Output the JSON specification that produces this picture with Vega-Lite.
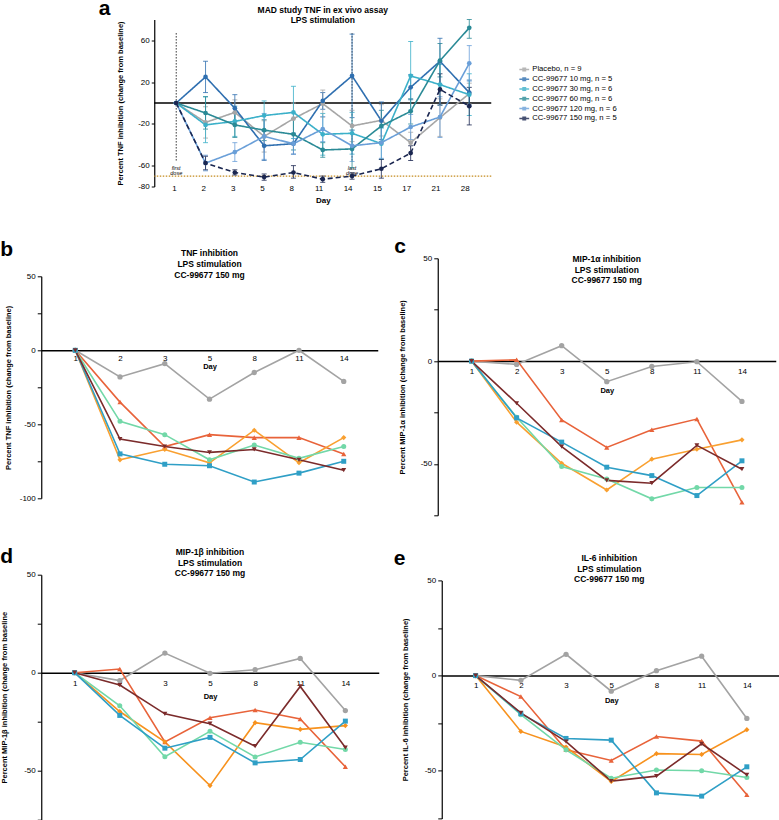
{
"$schema":"https://vega.github.io/schema/vega-lite/v6.json",
"background":"white",
"padding":{"left":0,"top":-2.5,"right":0,"bottom":0},
"config":{"font":"Liberation Sans","view":{"stroke":null},
"axis":{"grid":false,"domainColor":"black","tickColor":"black","labelColor":"black","titleColor":"black","labelFontSize":8,"titleFontSize":7.5,"titleFontWeight":"bold","labelOverlap":false},
"title":{"fontSize":8.5,"fontWeight":"bold","color":"black","lineHeight":11},
"legend":{"labelFontSize":7.7,"labelColor":"black"}},
"datasets":{
"doses":[{"d":"1","label":"first dose"},{"d":"14","label":"last dose"}],
"refs":[{"ref":"baseline","y":0},{"ref":"threshold","y":-70}],
"mad":[
{"g":"Placebo, n = 9","d":"1","v":0,"lo":0,"hi":0},
{"g":"Placebo, n = 9","d":"2","v":-18.6,"lo":-33.6,"hi":-3.6},
{"g":"Placebo, n = 9","d":"3","v":-9,"lo":-21,"hi":3},
{"g":"Placebo, n = 9","d":"5","v":-32,"lo":-47,"hi":-17},
{"g":"Placebo, n = 9","d":"8","v":-15,"lo":-30,"hi":0},
{"g":"Placebo, n = 9","d":"11","v":-0.6,"lo":-13.6,"hi":12.4},
{"g":"Placebo, n = 9","d":"14","v":-22,"lo":-37,"hi":-7},
{"g":"Placebo, n = 9","d":"15","v":-16.6,"lo":-31.6,"hi":-1.6},
{"g":"Placebo, n = 9","d":"17","v":-38,"lo":-48,"hi":-28},
{"g":"Placebo, n = 9","d":"21","v":-14,"lo":-32,"hi":4},
{"g":"Placebo, n = 9","d":"28","v":9,"lo":-1,"hi":19},
{"g":"CC-99677 10 mg, n = 5","d":"1","v":0,"lo":0,"hi":0},
{"g":"CC-99677 10 mg, n = 5","d":"2","v":25,"lo":10,"hi":40},
{"g":"CC-99677 10 mg, n = 5","d":"3","v":-5,"lo":-18,"hi":8},
{"g":"CC-99677 10 mg, n = 5","d":"5","v":-41,"lo":-55,"hi":-27},
{"g":"CC-99677 10 mg, n = 5","d":"8","v":-39,"lo":-49,"hi":-29},
{"g":"CC-99677 10 mg, n = 5","d":"11","v":2,"lo":-6,"hi":10},
{"g":"CC-99677 10 mg, n = 5","d":"14","v":26,"lo":-14,"hi":66},
{"g":"CC-99677 10 mg, n = 5","d":"15","v":-17,"lo":-35,"hi":1},
{"g":"CC-99677 10 mg, n = 5","d":"17","v":15,"lo":3,"hi":27},
{"g":"CC-99677 10 mg, n = 5","d":"21","v":40,"lo":18,"hi":62},
{"g":"CC-99677 10 mg, n = 5","d":"28","v":10,"lo":-2,"hi":22},
{"g":"CC-99677 30 mg, n = 6","d":"1","v":0,"lo":0,"hi":0},
{"g":"CC-99677 30 mg, n = 6","d":"2","v":-21,"lo":-38,"hi":6},
{"g":"CC-99677 30 mg, n = 6","d":"3","v":-17.6,"lo":-32,"hi":-3},
{"g":"CC-99677 30 mg, n = 6","d":"5","v":-12,"lo":-26,"hi":2},
{"g":"CC-99677 30 mg, n = 6","d":"8","v":-9,"lo":-34,"hi":16},
{"g":"CC-99677 30 mg, n = 6","d":"11","v":-30,"lo":-50,"hi":-10},
{"g":"CC-99677 30 mg, n = 6","d":"14","v":-29,"lo":-49,"hi":-9},
{"g":"CC-99677 30 mg, n = 6","d":"15","v":-39,"lo":-54,"hi":-24},
{"g":"CC-99677 30 mg, n = 6","d":"17","v":26,"lo":-7,"hi":59},
{"g":"CC-99677 30 mg, n = 6","d":"21","v":17.6,"lo":-2,"hi":37},
{"g":"CC-99677 30 mg, n = 6","d":"28","v":8,"lo":-12,"hi":28},
{"g":"CC-99677 60 mg, n = 6","d":"1","v":0,"lo":0,"hi":0},
{"g":"CC-99677 60 mg, n = 6","d":"2","v":-9.6,"lo":-25,"hi":6},
{"g":"CC-99677 60 mg, n = 6","d":"3","v":-21,"lo":-33,"hi":-9},
{"g":"CC-99677 60 mg, n = 6","d":"5","v":-26,"lo":-36,"hi":-16},
{"g":"CC-99677 60 mg, n = 6","d":"8","v":-30,"lo":-45,"hi":-15},
{"g":"CC-99677 60 mg, n = 6","d":"11","v":-45,"lo":-52,"hi":-38},
{"g":"CC-99677 60 mg, n = 6","d":"14","v":-44,"lo":-62,"hi":-26},
{"g":"CC-99677 60 mg, n = 6","d":"15","v":-22,"lo":-37,"hi":-7},
{"g":"CC-99677 60 mg, n = 6","d":"17","v":-8,"lo":-20,"hi":4},
{"g":"CC-99677 60 mg, n = 6","d":"21","v":40.6,"lo":25,"hi":57},
{"g":"CC-99677 60 mg, n = 6","d":"28","v":72,"lo":62,"hi":80},
{"g":"CC-99677 120 mg, n = 6","d":"1","v":0,"lo":0,"hi":0},
{"g":"CC-99677 120 mg, n = 6","d":"2","v":-57.6,"lo":-65,"hi":-50},
{"g":"CC-99677 120 mg, n = 6","d":"3","v":-47,"lo":-56,"hi":-38},
{"g":"CC-99677 120 mg, n = 6","d":"5","v":-32,"lo":-54,"hi":-10},
{"g":"CC-99677 120 mg, n = 6","d":"8","v":-39,"lo":-49,"hi":-29},
{"g":"CC-99677 120 mg, n = 6","d":"11","v":-25,"lo":-37,"hi":-13},
{"g":"CC-99677 120 mg, n = 6","d":"14","v":-41,"lo":-56,"hi":-26},
{"g":"CC-99677 120 mg, n = 6","d":"15","v":-38,"lo":-53,"hi":-23},
{"g":"CC-99677 120 mg, n = 6","d":"17","v":-23,"lo":-35,"hi":-11},
{"g":"CC-99677 120 mg, n = 6","d":"21","v":-13.4,"lo":-33,"hi":6},
{"g":"CC-99677 120 mg, n = 6","d":"28","v":38,"lo":21,"hi":55},
{"g":"CC-99677 150 mg, n = 5","d":"1","v":0,"lo":0,"hi":0},
{"g":"CC-99677 150 mg, n = 5","d":"2","v":-57.6,"lo":-64,"hi":-51},
{"g":"CC-99677 150 mg, n = 5","d":"3","v":-66.6,"lo":-69,"hi":-64},
{"g":"CC-99677 150 mg, n = 5","d":"5","v":-71,"lo":-74,"hi":-68},
{"g":"CC-99677 150 mg, n = 5","d":"8","v":-66.6,"lo":-72,"hi":-60},
{"g":"CC-99677 150 mg, n = 5","d":"11","v":-73,"lo":-76,"hi":-70},
{"g":"CC-99677 150 mg, n = 5","d":"14","v":-70,"lo":-73,"hi":-67},
{"g":"CC-99677 150 mg, n = 5","d":"15","v":-63,"lo":-72,"hi":-54},
{"g":"CC-99677 150 mg, n = 5","d":"17","v":-48,"lo":-55,"hi":-41},
{"g":"CC-99677 150 mg, n = 5","d":"21","v":13,"lo":-2,"hi":28},
{"g":"CC-99677 150 mg, n = 5","d":"28","v":-3,"lo":-21,"hi":15}
],
"cyt":[
{"p":"b","s":"Placebo","d":"1","v":0},{"p":"b","s":"Placebo","d":"2","v":-18},{"p":"b","s":"Placebo","d":"3","v":-9},{"p":"b","s":"Placebo","d":"5","v":-33},{"p":"b","s":"Placebo","d":"8","v":-15},{"p":"b","s":"Placebo","d":"11","v":0},{"p":"b","s":"Placebo","d":"14","v":-21},
{"p":"b","s":"S1","d":"1","v":0},{"p":"b","s":"S1","d":"2","v":-35},{"p":"b","s":"S1","d":"3","v":-65},{"p":"b","s":"S1","d":"5","v":-57},{"p":"b","s":"S1","d":"8","v":-59},{"p":"b","s":"S1","d":"11","v":-59},{"p":"b","s":"S1","d":"14","v":-70},
{"p":"b","s":"S2","d":"1","v":0},{"p":"b","s":"S2","d":"2","v":-74},{"p":"b","s":"S2","d":"3","v":-67},{"p":"b","s":"S2","d":"5","v":-76},{"p":"b","s":"S2","d":"8","v":-54},{"p":"b","s":"S2","d":"11","v":-76},{"p":"b","s":"S2","d":"14","v":-59},
{"p":"b","s":"S3","d":"1","v":0},{"p":"b","s":"S3","d":"2","v":-48},{"p":"b","s":"S3","d":"3","v":-57},{"p":"b","s":"S3","d":"5","v":-74},{"p":"b","s":"S3","d":"8","v":-64},{"p":"b","s":"S3","d":"11","v":-73},{"p":"b","s":"S3","d":"14","v":-65},
{"p":"b","s":"S4","d":"1","v":0},{"p":"b","s":"S4","d":"2","v":-70},{"p":"b","s":"S4","d":"3","v":-77},{"p":"b","s":"S4","d":"5","v":-78},{"p":"b","s":"S4","d":"8","v":-89},{"p":"b","s":"S4","d":"11","v":-83},{"p":"b","s":"S4","d":"14","v":-75},
{"p":"b","s":"S5","d":"1","v":0},{"p":"b","s":"S5","d":"2","v":-60},{"p":"b","s":"S5","d":"3","v":-65},{"p":"b","s":"S5","d":"5","v":-69},{"p":"b","s":"S5","d":"8","v":-67},{"p":"b","s":"S5","d":"11","v":-74},{"p":"b","s":"S5","d":"14","v":-81},
{"p":"c","s":"Placebo","d":"1","v":0},{"p":"c","s":"Placebo","d":"2","v":-1.6},{"p":"c","s":"Placebo","d":"3","v":7.5},{"p":"c","s":"Placebo","d":"5","v":-10},{"p":"c","s":"Placebo","d":"8","v":-2.6},{"p":"c","s":"Placebo","d":"11","v":-0.3},{"p":"c","s":"Placebo","d":"14","v":-19.6},
{"p":"c","s":"S1","d":"1","v":0},{"p":"c","s":"S1","d":"2","v":0.6},{"p":"c","s":"S1","d":"3","v":-28.6},{"p":"c","s":"S1","d":"5","v":-42},{"p":"c","s":"S1","d":"8","v":-33.4},{"p":"c","s":"S1","d":"11","v":-28.2},{"p":"c","s":"S1","d":"14","v":-68.7},
{"p":"c","s":"S2","d":"1","v":0},{"p":"c","s":"S2","d":"2","v":-29.7},{"p":"c","s":"S2","d":"3","v":-49.7},{"p":"c","s":"S2","d":"5","v":-62.7},{"p":"c","s":"S2","d":"8","v":-47.7},{"p":"c","s":"S2","d":"11","v":-42.9},{"p":"c","s":"S2","d":"14","v":-38.3},
{"p":"c","s":"S3","d":"1","v":0},{"p":"c","s":"S3","d":"2","v":-27.3},{"p":"c","s":"S3","d":"3","v":-51.3},{"p":"c","s":"S3","d":"5","v":-57.3},{"p":"c","s":"S3","d":"8","v":-67},{"p":"c","s":"S3","d":"11","v":-61.5},{"p":"c","s":"S3","d":"14","v":-61.5},
{"p":"c","s":"S4","d":"1","v":0},{"p":"c","s":"S4","d":"2","v":-27.6},{"p":"c","s":"S4","d":"3","v":-39.4},{"p":"c","s":"S4","d":"5","v":-51.6},{"p":"c","s":"S4","d":"8","v":-55.7},{"p":"c","s":"S4","d":"11","v":-65.4},{"p":"c","s":"S4","d":"14","v":-48.5},
{"p":"c","s":"S5","d":"1","v":0},{"p":"c","s":"S5","d":"2","v":-20.5},{"p":"c","s":"S5","d":"3","v":-41.6},{"p":"c","s":"S5","d":"5","v":-58},{"p":"c","s":"S5","d":"8","v":-59.4},{"p":"c","s":"S5","d":"11","v":-41},{"p":"c","s":"S5","d":"14","v":-52.6},
{"p":"d","s":"Placebo","d":"1","v":0},{"p":"d","s":"Placebo","d":"2","v":-4},{"p":"d","s":"Placebo","d":"3","v":10},{"p":"d","s":"Placebo","d":"5","v":-0.3},{"p":"d","s":"Placebo","d":"8","v":1.5},{"p":"d","s":"Placebo","d":"11","v":7.3},{"p":"d","s":"Placebo","d":"14","v":-19.3},
{"p":"d","s":"S1","d":"1","v":0},{"p":"d","s":"S1","d":"2","v":1.9},{"p":"d","s":"S1","d":"3","v":-35.3},{"p":"d","s":"S1","d":"5","v":-23},{"p":"d","s":"S1","d":"8","v":-19},{"p":"d","s":"S1","d":"11","v":-23.6},{"p":"d","s":"S1","d":"14","v":-48},
{"p":"d","s":"S2","d":"1","v":0},{"p":"d","s":"S2","d":"2","v":-19.8},{"p":"d","s":"S2","d":"3","v":-35.3},{"p":"d","s":"S2","d":"5","v":-57.6},{"p":"d","s":"S2","d":"8","v":-25.5},{"p":"d","s":"S2","d":"11","v":-28.9},{"p":"d","s":"S2","d":"14","v":-27},
{"p":"d","s":"S3","d":"1","v":0},{"p":"d","s":"S3","d":"2","v":-16.9},{"p":"d","s":"S3","d":"3","v":-42.9},{"p":"d","s":"S3","d":"5","v":-29.9},{"p":"d","s":"S3","d":"8","v":-43},{"p":"d","s":"S3","d":"11","v":-35.5},{"p":"d","s":"S3","d":"14","v":-39.2},
{"p":"d","s":"S4","d":"1","v":0},{"p":"d","s":"S4","d":"2","v":-21.8},{"p":"d","s":"S4","d":"3","v":-38.5},{"p":"d","s":"S4","d":"5","v":-33},{"p":"d","s":"S4","d":"8","v":-46},{"p":"d","s":"S4","d":"11","v":-44.3},{"p":"d","s":"S4","d":"14","v":-24.7},
{"p":"d","s":"S5","d":"1","v":0},{"p":"d","s":"S5","d":"2","v":-6.3},{"p":"d","s":"S5","d":"3","v":-21},{"p":"d","s":"S5","d":"5","v":-26},{"p":"d","s":"S5","d":"8","v":-37.5},{"p":"d","s":"S5","d":"11","v":-7},{"p":"d","s":"S5","d":"14","v":-38.2},
{"p":"e","s":"Placebo","d":"1","v":0},{"p":"e","s":"Placebo","d":"2","v":-2.5},{"p":"e","s":"Placebo","d":"3","v":11.2},{"p":"e","s":"Placebo","d":"5","v":-8.2},{"p":"e","s":"Placebo","d":"8","v":2.6},{"p":"e","s":"Placebo","d":"11","v":10.2},{"p":"e","s":"Placebo","d":"14","v":-22.5},
{"p":"e","s":"S1","d":"1","v":0},{"p":"e","s":"S1","d":"2","v":-11},{"p":"e","s":"S1","d":"3","v":-39},{"p":"e","s":"S1","d":"5","v":-44.6},{"p":"e","s":"S1","d":"8","v":-32},{"p":"e","s":"S1","d":"11","v":-34.4},{"p":"e","s":"S1","d":"14","v":-62.6},
{"p":"e","s":"S2","d":"1","v":0},{"p":"e","s":"S2","d":"2","v":-29.3},{"p":"e","s":"S2","d":"3","v":-37.5},{"p":"e","s":"S2","d":"5","v":-55.6},{"p":"e","s":"S2","d":"8","v":-41},{"p":"e","s":"S2","d":"11","v":-41.4},{"p":"e","s":"S2","d":"14","v":-28.4},
{"p":"e","s":"S3","d":"1","v":0},{"p":"e","s":"S3","d":"2","v":-20.5},{"p":"e","s":"S3","d":"3","v":-39},{"p":"e","s":"S3","d":"5","v":-53.9},{"p":"e","s":"S3","d":"8","v":-49.6},{"p":"e","s":"S3","d":"11","v":-50},{"p":"e","s":"S3","d":"14","v":-53.5},
{"p":"e","s":"S4","d":"1","v":0},{"p":"e","s":"S4","d":"2","v":-20},{"p":"e","s":"S4","d":"3","v":-33},{"p":"e","s":"S4","d":"5","v":-33.9},{"p":"e","s":"S4","d":"8","v":-61.6},{"p":"e","s":"S4","d":"11","v":-63.3},{"p":"e","s":"S4","d":"14","v":-47.9},
{"p":"e","s":"S5","d":"1","v":0},{"p":"e","s":"S5","d":"2","v":-19.6},{"p":"e","s":"S5","d":"3","v":-34.7},{"p":"e","s":"S5","d":"5","v":-55.4},{"p":"e","s":"S5","d":"8","v":-52.8},{"p":"e","s":"S5","d":"11","v":-35.8},{"p":"e","s":"S5","d":"14","v":-52.1}
]},
"spacing":31.8,
"center":true,
"resolve":{"scale":{"x":"independent","y":"independent","color":"independent","shape":"independent","size":"independent"}},
"vconcat":[
{"spacing":0,
 "title":{"text":"a","anchor":"start","fontSize":21,"fontWeight":"bold","dx":-18.25,"offset":-13.1},
 "vconcat":[{
  "width":337,"height":167,
  "title":{"text":["MAD study TNF in ex vivo assay","LPS stimulation"],"offset":-5.6,"lineHeight":10.5},
  "layer":[
   {"data":{"name":"refs"},"transform":[{"filter":"datum.ref === 'baseline'"}],"mark":{"type":"rule","color":"black","strokeWidth":1.5},"encoding":{"y":{"field":"y","type":"quantitative","title":"Percent TNF inhibition (change from baseline)"}}},
   {"data":{"name":"refs"},"transform":[{"filter":"datum.ref === 'threshold'"}],"mark":{"type":"rule","color":"#c48a1c","strokeWidth":1.2,"strokeDash":[1.5,1.5]},"encoding":{"y":{"field":"y","type":"quantitative","title":"Percent TNF inhibition (change from baseline)"}}},
   {"data":{"name":"doses"},"mark":{"type":"rule","color":"black","strokeWidth":0.8,"strokeDash":[1.5,1.5]},"encoding":{"x":{"field":"d","type":"ordinal","title":"Day","sort":["1","2","3","5","8","11","14","15","17","21","28"]},"y":{"datum":67},"y2":{"datum":-56}}},
   {"data":{"name":"doses"},"mark":{"type":"text","fontSize":5.5,"lineBreak":" ","lineHeight":5,"baseline":"middle","fontStyle":"italic"},"encoding":{"x":{"field":"d","type":"ordinal","title":"Day","sort":["1","2","3","5","8","11","14","15","17","21","28"]},"y":{"datum":-62},"text":{"field":"label"}}},
   {"data":{"name":"mad"},
    "encoding":{
     "x":{"field":"d","type":"ordinal","title":"Day","sort":["1","2","3","5","8","11","14","15","17","21","28"],"scale":{"type":"point","padding":0.75},"axis":{"labelAngle":0,"domain":false,"ticks":false,"labelPadding":2,"titleFontSize":8,"titlePadding":4}},
     "y":{"field":"v","type":"quantitative","title":"Percent TNF inhibition (change from baseline)","scale":{"domain":[-80,80],"nice":false,"zero":false},"axis":{"values":[80,60,40,20,0,-20,-40,-60,-70,-80],"labelExpr":"'' + datum.value","tickSize":3,"domainWidth":1.2,"titlePadding":12.7}},
     "color":{"field":"g","type":"nominal","scale":{"domain":["Placebo, n = 9","CC-99677 10 mg, n = 5","CC-99677 30 mg, n = 6","CC-99677 60 mg, n = 6","CC-99677 120 mg, n = 6","CC-99677 150 mg, n = 5"],"range":["#a6a6a6","#2f6fb0","#3bb0c9","#2a8a96","#6a9fd8","#1a2650"]},
      "legend":{"orient":"none","legendX":314.5,"legendY":-5.6,"padding":51,"title":null,"labelFontSize":7.7,"symbolType":"M-1.4,0H1.4M-0.35,-0.35H0.35V0.35H-0.35Z","symbolSize":49,"symbolStrokeWidth":1.5,"rowPadding":0.8,"labelOffset":3.5}}
    },
    "layer":[
     {"mark":{"type":"errorbar","ticks":{"size":5},"thickness":1,"opacity":0.8},"encoding":{"y":{"field":"lo","type":"quantitative","title":"Percent TNF inhibition (change from baseline)"},"y2":{"field":"hi"}}},
     {"mark":{"type":"line","strokeWidth":1.6},"encoding":{"strokeDash":{"field":"g","type":"nominal","scale":{"domain":["Placebo, n = 9","CC-99677 10 mg, n = 5","CC-99677 30 mg, n = 6","CC-99677 60 mg, n = 6","CC-99677 120 mg, n = 6","CC-99677 150 mg, n = 5"],"range":[[1,0],[1,0],[1,0],[1,0],[1,0],[5,3]]},"legend":null}}},
     {"mark":{"type":"point","filled":true,"opacity":1,"size":22}}
    ]}
  ]
 }]
},
{"hconcat":[
 {"vconcat":[
  {"spacing":0,"title":{"text":"b","anchor":"start","fontSize":21,"fontWeight":"bold","offset":-10.9,"dx":-4.25},
   "vconcat":[{
    "width":336.5,"height":240,
    "title":{"text":["TNF inhibition","LPS stimulation","CC-99677 150 mg"],"offset":-21,"lineHeight":11},
    "data":{"name":"cyt"},"transform":[{"filter":"datum.p === 'b'"}],
    "encoding":{
     "x":{"field":"d","type":"ordinal","title":"Day","sort":["1","2","3","5","8","11","14"],"scale":{"type":"point","padding":0.76},"axis":{"offset":-148,"labelAngle":0,"ticks":false,"domainWidth":1.5,"labelPadding":4,"titleFontSize":7.5,"titlePadding":0.5}},
     "y":{"field":"v","type":"quantitative","title":"Percent TNF inhibition (change from baseline)","scale":{"domain":[-100,50],"range":[240,18],"nice":false,"zero":false},"axis":{"values":[50,25,0,-25,-50,-75,-100],"labelExpr":"datum.value % 50 === 0 ? '' + datum.value : ''","tickSize":4,"domainWidth":1.2,"titlePadding":6.75}},
     "color":{"field":"s","type":"nominal","scale":{"domain":["Placebo","S1","S2","S3","S4","S5"],"range":["#a3a3a3","#e8633a","#f9a030","#72d8a8","#2f9fc6","#7b2b2b"]},"legend":null}
    },
    "layer":[
     {"mark":{"type":"line","strokeWidth":1.6}},
     {"mark":{"type":"point","filled":true,"opacity":1},"encoding":{
       "shape":{"field":"s","type":"nominal","scale":{"domain":["Placebo","S1","S2","S3","S4","S5"],"range":["circle","triangle-up","diamond","circle","square","triangle-down"]},"legend":null},
       "size":{"field":"s","type":"nominal","scale":{"domain":["Placebo","S1","S2","S3","S4","S5"],"range":[28,24,14,55,30,24]},"legend":null}}}
    ]}]},
  {"spacing":0,"title":{"text":"d","anchor":"start","fontSize":21,"fontWeight":"bold","offset":-18.9,"dx":-0.25},
   "vconcat":[{
    "width":337.5,"height":245,
    "title":{"text":["MIP-1β inhibition","LPS stimulation","CC-99677 150 mg"],"offset":-7,"lineHeight":10.5},
    "data":{"name":"cyt"},"transform":[{"filter":"datum.p === 'd'"}],
    "encoding":{
     "x":{"field":"d","type":"ordinal","title":"Day","sort":["1","2","3","5","8","11","14"],"scale":{"type":"point","padding":0.74},"axis":{"offset":-147,"labelAngle":0,"ticks":false,"domainWidth":1.5,"labelPadding":6.5,"titleFontSize":7.5,"titlePadding":5.5}},
     "y":{"field":"v","type":"quantitative","title":"Percent MIP-1β inhibition (change from baseline","scale":{"domain":[-75,50],"nice":false,"zero":false},"axis":{"values":[50,25,0,-25,-50,-75],"labelExpr":"datum.value % 50 === 0 ? '' + datum.value : ''","tickSize":4,"domainWidth":1.2,"titlePadding":15.2}},
     "color":{"field":"s","type":"nominal","scale":{"domain":["Placebo","S1","S2","S3","S4","S5"],"range":["#a3a3a3","#e8633a","#f7921e","#72d8a8","#2f9fc6","#7b2b2b"]},"legend":null}
    },
    "layer":[
     {"mark":{"type":"line","strokeWidth":1.6}},
     {"mark":{"type":"point","filled":true,"opacity":1},"encoding":{
       "shape":{"field":"s","type":"nominal","scale":{"domain":["Placebo","S1","S2","S3","S4","S5"],"range":["circle","triangle-up","diamond","circle","square","triangle-down"]},"legend":null},
       "size":{"field":"s","type":"nominal","scale":{"domain":["Placebo","S1","S2","S3","S4","S5"],"range":[28,24,14,55,30,24]},"legend":null}}}
    ]}]}
 ],"spacing":43.4,"resolve":{"scale":{"x":"independent","y":"independent","color":"independent","shape":"independent","size":"independent"}}},
 {"vconcat":[
  {"spacing":0,"title":{"text":"c","anchor":"start","fontSize":21,"fontWeight":"bold","offset":-3,"dx":-4.25},
   "vconcat":[{
    "width":338,"height":257,
    "title":{"text":["MIP-1α inhibition","LPS stimulation","CC-99677 150 mg"],"offset":-30.7,"lineHeight":10.9},
    "data":{"name":"cyt"},"transform":[{"filter":"datum.p === 'c'"}],
    "encoding":{
     "x":{"field":"d","type":"ordinal","title":"Day","sort":["1","2","3","5","8","11","14"],"scale":{"type":"point","padding":0.75},"axis":{"offset":-154.2,"labelAngle":0,"ticks":false,"domainWidth":1.5,"labelPadding":6,"titleFontSize":7.5,"titlePadding":11}},
     "y":{"field":"v","type":"quantitative","title":"Percent MIP-1α inhibition (change from baseline)","scale":{"domain":[-75,50],"nice":false,"zero":false},"axis":{"values":[50,25,0,-25,-50,-75],"labelExpr":"datum.value % 50 === 0 ? '' + datum.value : ''","tickSize":4,"domainWidth":1.2,"titlePadding":13.7}},
     "color":{"field":"s","type":"nominal","scale":{"domain":["Placebo","S1","S2","S3","S4","S5"],"range":["#a3a3a3","#e8633a","#f9a030","#72d8a8","#2f9fc6","#7b2b2b"]},"legend":null}
    },
    "layer":[
     {"mark":{"type":"line","strokeWidth":1.6}},
     {"mark":{"type":"point","filled":true,"opacity":1},"encoding":{
       "shape":{"field":"s","type":"nominal","scale":{"domain":["Placebo","S1","S2","S3","S4","S5"],"range":["circle","triangle-up","diamond","circle","square","triangle-down"]},"legend":null},
       "size":{"field":"s","type":"nominal","scale":{"domain":["Placebo","S1","S2","S3","S4","S5"],"range":[28,24,14,55,30,24]},"legend":null}}}
    ]}]},
  {"spacing":0,"title":{"text":"e","anchor":"start","fontSize":21,"fontWeight":"bold","offset":-14.5,"dx":-7.75},
   "vconcat":[{
    "width":343,"height":245,
    "title":{"text":["IL-6 inhibition","LPS stimulation","CC-99677 150 mg"],"offset":-10.4,"lineHeight":10.65},
    "data":{"name":"cyt"},"transform":[{"filter":"datum.p === 'e'"}],
    "encoding":{
     "x":{"field":"d","type":"ordinal","title":"Day","sort":["1","2","3","5","8","11","14"],"scale":{"type":"point","padding":0.75,"range":[4,343]},"axis":{"offset":-142.8,"labelAngle":0,"ticks":false,"domainWidth":1.5,"labelPadding":5.5,"titleFontSize":7.5,"titlePadding":7.5}},
     "y":{"field":"v","type":"quantitative","title":"Percent IL-6 inhibition (change from baseline)","scale":{"domain":[-75,50],"range":[245,7],"nice":false,"zero":false},"axis":{"offset":-4,"values":[50,25,0,-25,-50,-75],"labelExpr":"datum.value % 50 === 0 ? '' + datum.value : ''","tickSize":4,"domainWidth":1.2,"titlePadding":14.7}},
     "color":{"field":"s","type":"nominal","scale":{"domain":["Placebo","S1","S2","S3","S4","S5"],"range":["#a3a3a3","#e8633a","#f7921e","#72d8a8","#2f9fc6","#7b2b2b"]},"legend":null}
    },
    "layer":[
     {"mark":{"type":"line","strokeWidth":1.6}},
     {"mark":{"type":"point","filled":true,"opacity":1},"encoding":{
       "shape":{"field":"s","type":"nominal","scale":{"domain":["Placebo","S1","S2","S3","S4","S5"],"range":["circle","triangle-up","diamond","circle","square","triangle-down"]},"legend":null},
       "size":{"field":"s","type":"nominal","scale":{"domain":["Placebo","S1","S2","S3","S4","S5"],"range":[28,24,14,55,30,24]},"legend":null}}}
    ]}]}
 ],"spacing":28.1,"resolve":{"scale":{"x":"independent","y":"independent","color":"independent","shape":"independent","size":"independent"}}}
],"spacing":13.5,"resolve":{"scale":{"x":"independent","y":"independent","color":"independent","shape":"independent","size":"independent"}}}
]
}
